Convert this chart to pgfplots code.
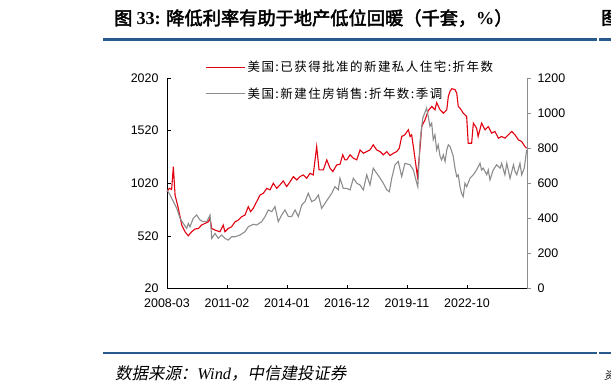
\documentclass[border=0pt]{standalone}
\usepackage{fontspec}
\usepackage{pgfplots}
\pgfplotsset{compat=1.18}
\setmainfont{Liberation Sans}
\newfontfamily\cjk[LetterSpace=12]{Noto Sans CJK SC}
\newfontfamily\cjkt[FakeBold=2.5]{Noto Sans CJK SC}
\newfontfamily\cjks[FakeSlant=0.2]{Noto Sans CJK SC}
\newfontfamily\tnr{Liberation Serif}
\definecolor{rulecol}{RGB}{40,90,140}
\definecolor{sred}{RGB}{225,0,15}
\definecolor{sgray}{RGB}{140,140,140}
\newcommand{\lgfont}{\fontsize{12.5}{14}\selectfont\cjk}
\pgfplotsset{
  mylegend/.style={legend style={draw=none, fill=none, anchor=west},
    legend cell align=left},
}
\begin{document}
\begin{tikzpicture}[x=1bp,y=1bp]
\useasboundingbox (0,0) rectangle (611,387);
% title and rules
\node[anchor=west,inner sep=0] at (114,369) {\fontsize{18.3}{20}\selectfont\cjkt 图 {\tnr\bfseries 33:} 降低利率有助于地产低位回暖（千套，{\tnr\bfseries\%}）};
\node[anchor=west,inner sep=0] at (601,369) {\fontsize{18.3}{20}\selectfont\cjkt 图};
\fill[rulecol] (103,346.5) rectangle (597,349);
\fill[rulecol] (599,346.5) rectangle (611,349);
\fill[rulecol] (103,33) rectangle (597,35);
\fill[rulecol] (599,33) rectangle (611,35);
\node[anchor=west,inner sep=0] at (115,14) {\fontsize{16.5}{18}\selectfont\cjks 数据来源：{\tnr\itshape Wind}，中信建投证券};
\node[anchor=west,inner sep=0] at (604,12) {\fontsize{11}{13}\selectfont\cjks 资};

\begin{axis}[
  at={(167bp,98.5bp)}, anchor=south west,
  width=360bp, height=210.5bp, scale only axis,
  xmin=0, xmax=210, ymin=20, ymax=2020,
  axis x line*=bottom, axis y line*=left,
  axis line style={black, line width=0.8bp},
  ytick={20,520,1020,1520,2020},
  xtick={0,35,70,105,140,175},
  xticklabels={2008-03,2011-02,2014-01,2016-12,2019-11,2022-10},
  tick align=inside, major tick length=4bp,
  tick style={black, line width=0.6bp},
  /pgf/number format/assume math mode=true,
  /pgf/number format/1000 sep={},
  tick label style={font=\fontsize{12.5}{14}\selectfont},
  yticklabel style={xshift=-5bp},
  xticklabel style={yshift=-7bp},
  clip=false,
  mylegend,
  legend style={at={(axis description cs:0.098,1.052)}},
  legend image code/.code={\draw[draw=sred, line width=1.1bp] (-4bp,0bp) -- (35bp,0bp);},
]
\addplot[sred, line width=1.1bp] coordinates {
(0,940)(1.3,972)(2.7,960)(3.7,1178)(4.7,908)(6.6,782)(8.6,623)(10.5,559)(12.4,521)(14.4,559)(16.3,585)(18.3,590)(20.2,623)(22.2,639)(24.1,654)(25.1,687)(26.1,591)(28,575)(30.9,559)(32.8,623)(33.8,559)(35.8,591)(37.7,607)(39.7,654)(41.6,670)(43.6,702)(45.5,718)(47.4,797)(48.8,750)(50.3,782)(52.3,845)(54.3,908)(56.2,925)(58.2,972)(60.1,957)(62,1020)(64,972)(65.9,1004)(67.8,1042)(69.8,988)(71.8,1035)(73.7,1083)(75.7,1051)(77.6,1083)(79.5,1099)(81.5,1067)(83.4,1115)(85.3,1099)(87.3,1369)(88.7,1147)(91.2,1147)(93.2,1242)(95.1,1163)(96.7,1131)(99,1194)(100.9,1200)(102.5,1290)(103.8,1242)(104.8,1242)(106.8,1290)(108.7,1258)(110.7,1242)(112.6,1337)(114.5,1305)(116.5,1321)(118.4,1337)(120.3,1385)(122.3,1337)(124.3,1321)(126.2,1290)(128.2,1321)(130.1,1283)(132,1305)(134,1321)(135.5,1353)(136.9,1464)(138.7,1480)(140.8,1528)(141.8,1464)(142.7,1480)(144.1,1321)(146.1,1083)(147.6,1353)(148.6,1560)(150.5,1623)(152.4,1710)(154.4,1750)(156.3,1718)(157.3,1785)(159.3,1718)(161.2,1686)(163.2,1718)(164.1,1845)(165.1,1893)(166.1,1918)(168,1910)(169,1877)(169.9,1750)(170.9,1734)(172.8,1686)(174.8,1655)(175.7,1400)(177.7,1400)(178.7,1591)(180.6,1543)(181.5,1464)(183.5,1591)(185.5,1528)(187.4,1559)(189.4,1496)(191.3,1512)(193.3,1448)(195.2,1464)(197.1,1448)(199.1,1480)(201.1,1512)(203,1480)(205,1432)(206.9,1416)(208.8,1369)(209.8,1353)
};
\addlegendentry{\lgfont 美国:已获得批准的新建私人住宅:折年数}
\end{axis}

\begin{axis}[
  at={(167bp,98.5bp)}, anchor=south west,
  width=360bp, height=210.5bp, scale only axis,
  xmin=0, xmax=210, ymin=0, ymax=1200,
  axis x line=none, axis y line*=right,
  axis line style={sgray, line width=0.8bp},
  ytick={0,200,400,600,800,1000,1200},
  tick align=outside, major tick length=4bp,
  tick style={sgray, line width=0.6bp},
  /pgf/number format/assume math mode=true,
  /pgf/number format/1000 sep={},
  tick label style={font=\fontsize{12.5}{14}\selectfont, black},
  yticklabel style={xshift=3bp},
  clip=false,
  mylegend,
  legend style={at={(axis description cs:0.098,0.926)}},
  legend image code/.code={\draw[draw=sgray, line width=1.1bp] (-4bp,0bp) -- (35bp,0bp);},
]
\addplot[sgray, line width=1.1bp] coordinates {
(0,562)(1.8,533)(3.7,495)(5.7,457)(7.6,400)(9.5,371)(11.5,343)(12.4,371)(13.4,352)(15.3,400)(17.3,419)(19.3,390)(21.2,381)(23.2,381)(25.1,419)(26.1,286)(28,314)(29.9,286)(31.9,305)(33.8,286)(35.8,276)(37.7,295)(39.7,295)(42.6,305)(45.5,324)(47.4,352)(50.3,366)(52.3,362)(55.2,381)(57.2,410)(59.1,448)(61.1,438)(63,467)(64.9,381)(66.9,419)(68.8,448)(70.8,410)(72.7,410)(74.7,448)(76.6,410)(78.6,476)(80.5,495)(82.4,543)(84.4,495)(86.3,505)(88.3,533)(90.2,457)(92.2,486)(94.1,514)(96.1,543)(98,581)(99.9,562)(100.9,629)(102.8,571)(104.8,571)(106.8,562)(108.7,629)(110.7,600)(112.6,590)(114.5,562)(116.5,648)(118.4,590)(120.3,686)(122.3,657)(124.3,629)(126.2,600)(128.2,562)(129.7,552)(131.1,629)(133,705)(134.9,724)(136.9,638)(138.8,714)(141.8,705)(143.7,676)(145.7,600)(146.3,580)(147.6,838)(149.2,971)(149.9,990)(151.4,1028)(152.4,981)(153.4,924)(154.4,943)(155.3,848)(156.3,876)(157.3,790)(158.2,819)(159.3,753)(160.2,733)(161.2,762)(162.2,724)(163.2,790)(164.1,819)(165.1,810)(166.1,781)(167,752)(168,686)(169,638)(169.9,648)(170.9,581)(171.8,543)(172.8,524)(173.8,600)(174.8,580)(176.8,630)(178.7,648)(180.6,676)(182.6,714)(183.5,676)(184.5,686)(186.5,648)(187.4,676)(188.4,619)(190.3,676)(192.3,705)(194.3,686)(195.2,714)(197.1,648)(198.2,714)(200.1,628)(202.1,705)(203,667)(204,648)(205.9,714)(206.9,648)(208.4,686)(209.8,790)
};
\addlegendentry{\lgfont 美国:新建住房销售:折年数:季调}
\end{axis}
\end{tikzpicture}
\end{document}
